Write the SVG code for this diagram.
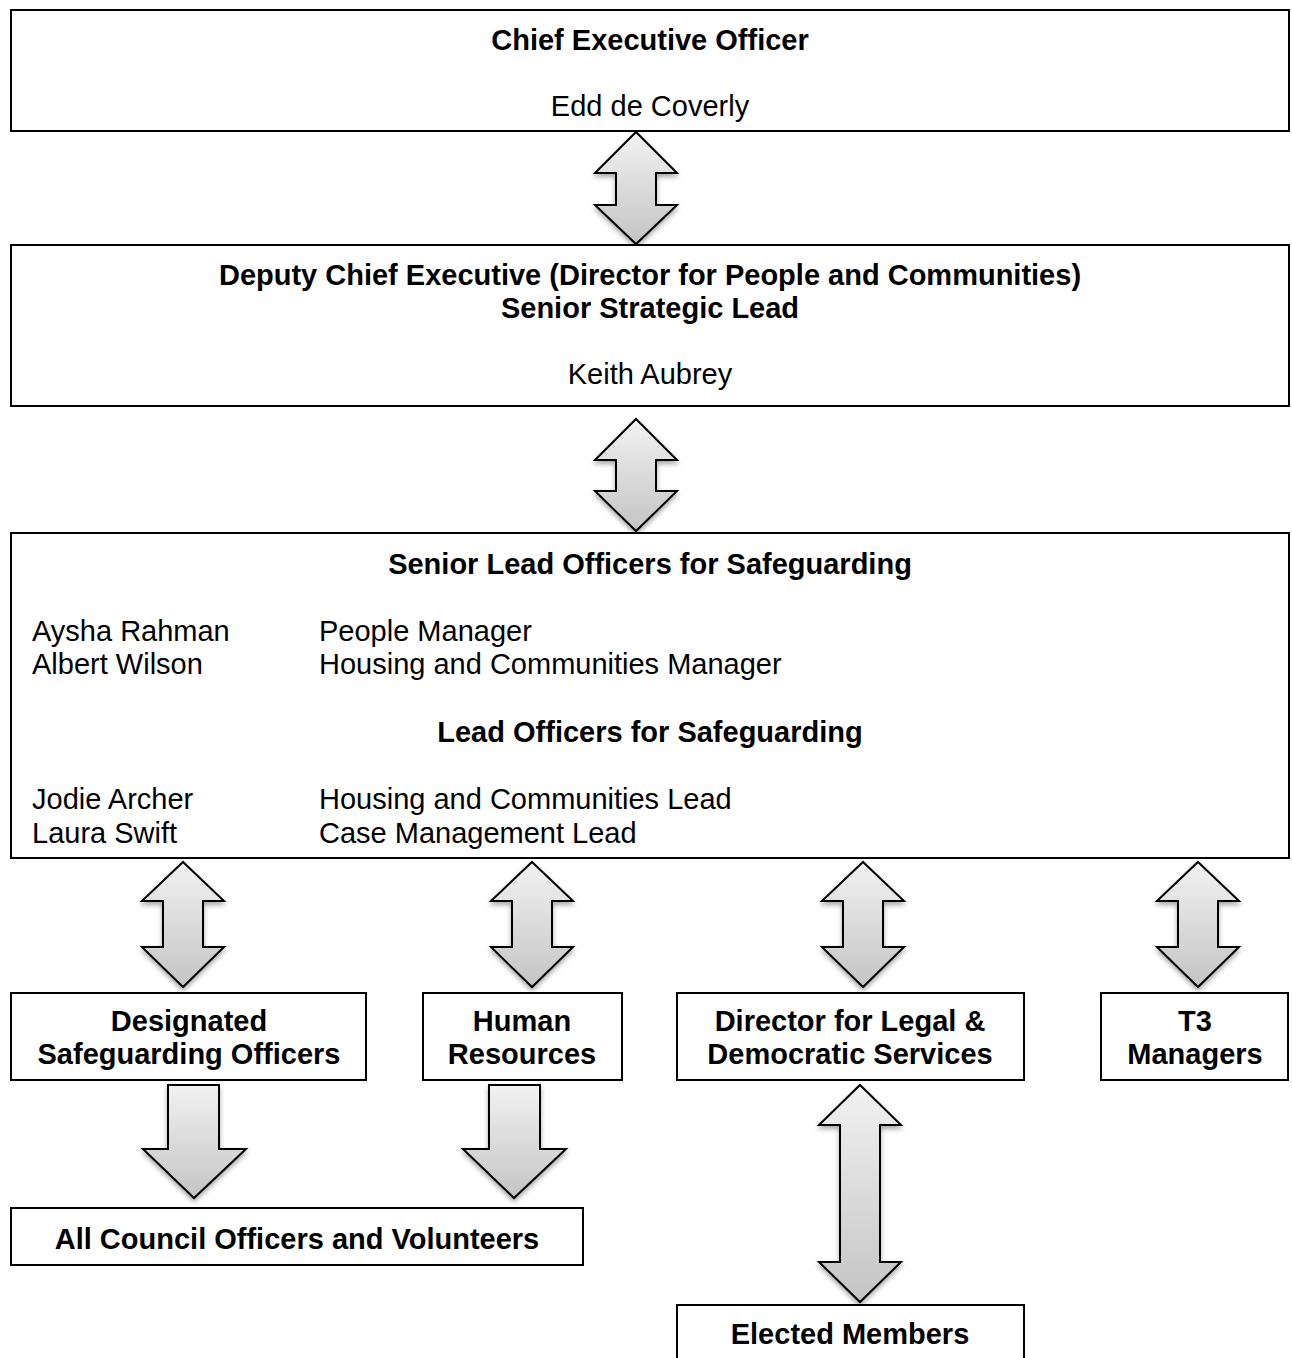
<svg xmlns="http://www.w3.org/2000/svg" width="1292" height="1358" viewBox="0 0 1292 1358">
<style>
.box{fill:#fff;stroke:#000;stroke-width:2}
.b{font-family:"Liberation Sans",Arial,sans-serif;font-size:29px;font-weight:bold;fill:#000;text-anchor:middle}
.n{font-family:"Liberation Sans",Arial,sans-serif;font-size:29px;fill:#000}
.c{text-anchor:middle}
.arr{fill:url(#g);stroke:#000;stroke-width:2;stroke-linejoin:miter;filter:url(#sh)}
</style>
<defs>
<linearGradient id="g" x1="0" y1="0" x2="0" y2="1">
<stop offset="0" stop-color="#f2f2f2"/>
<stop offset="1" stop-color="#c4c4c4"/>
</linearGradient>
<filter id="sh" x="-30%" y="-10%" width="160%" height="130%">
<feGaussianBlur in="SourceAlpha" stdDeviation="2.5"/>
<feOffset dx="0" dy="3" result="o"/>
<feComponentTransfer><feFuncA type="linear" slope="0.35"/></feComponentTransfer>
<feMerge><feMergeNode/><feMergeNode in="SourceGraphic"/></feMerge>
</filter>
</defs>
<g id="connectors">
<path class="arr" d="M636,132 L677,173 L656,173 L656,205 L677,205 L636,244 L595,205 L616,205 L616,173 L595,173 Z"/>
<path class="arr" d="M636,419 L677,460 L656,460 L656,491 L677,491 L636,531 L595,491 L616,491 L616,460 L595,460 Z"/>
<path class="arr" d="M183,862 L224,901 L203,901 L203,947 L224,947 L183,987 L142,947 L163,947 L163,901 L142,901 Z"/>
<path class="arr" d="M532,862 L573,901 L552,901 L552,947 L573,947 L532,987 L491,947 L512,947 L512,901 L491,901 Z"/>
<path class="arr" d="M863,862 L904,901 L883,901 L883,947 L904,947 L863,987 L822,947 L843,947 L843,901 L822,901 Z"/>
<path class="arr" d="M1198,862 L1239,901 L1218,901 L1218,947 L1239,947 L1198,987 L1157,947 L1178,947 L1178,901 L1157,901 Z"/>
<path class="arr" d="M168,1085 L219,1085 L219,1149 L246,1149 L194,1198 L143,1149 L168,1149 Z"/>
<path class="arr" d="M489,1085 L540,1085 L540,1149 L566,1149 L514,1198 L463,1149 L489,1149 Z"/>
<path class="arr" d="M860,1085 L901,1125 L880,1125 L880,1262 L901,1262 L860,1302 L819,1262 L840,1262 L840,1125 L819,1125 Z"/>
</g>
<g id="ceo">
<rect class="box" x="11" y="10" width="1278" height="121"/>
<text class="b" x="650" y="50">Chief Executive Officer</text>
<text class="n c" x="650" y="116">Edd de Coverly</text>
</g>
<g id="deputy">
<rect class="box" x="11" y="245" width="1278" height="161"/>
<text class="b" x="650" y="285">Deputy Chief Executive (Director for People and Communities)</text>
<text class="b" x="650" y="318">Senior Strategic Lead</text>
<text class="n c" x="650" y="384">Keith Aubrey</text>
</g>
<g id="leads">
<rect class="box" x="11" y="533" width="1278" height="325"/>
<text class="b" x="650" y="574">Senior Lead Officers for Safeguarding</text>
<text class="n" x="32" y="641">Aysha Rahman</text>
<text class="n" x="319" y="641">People Manager</text>
<text class="n" x="32" y="674">Albert Wilson</text>
<text class="n" x="319" y="674">Housing and Communities Manager</text>
<text class="b" x="650" y="742">Lead Officers for Safeguarding</text>
<text class="n" x="32" y="809">Jodie Archer</text>
<text class="n" x="319" y="809">Housing and Communities Lead</text>
<text class="n" x="32" y="843">Laura Swift</text>
<text class="n" x="319" y="843">Case Management Lead</text>
</g>
<g id="dso">
<rect class="box" x="11" y="993" width="355" height="87"/>
<text class="b" x="189" y="1031">Designated</text>
<text class="b" x="189" y="1064">Safeguarding Officers</text>
</g>
<g id="hr">
<rect class="box" x="423" y="993" width="199" height="87"/>
<text class="b" x="522" y="1031">Human</text>
<text class="b" x="522" y="1064">Resources</text>
</g>
<g id="legal">
<rect class="box" x="677" y="993" width="347" height="87"/>
<text class="b" x="850" y="1031">Director for Legal &amp;</text>
<text class="b" x="850" y="1064">Democratic Services</text>
</g>
<g id="t3">
<rect class="box" x="1101" y="993" width="187" height="87"/>
<text class="b" x="1195" y="1031">T3</text>
<text class="b" x="1195" y="1064">Managers</text>
</g>
<g id="all">
<rect class="box" x="11" y="1208" width="572" height="57"/>
<text class="b" x="297" y="1249">All Council Officers and Volunteers</text>
</g>
<g id="elected">
<rect class="box" x="677" y="1305" width="347" height="70"/>
<text class="b" x="850" y="1344">Elected Members</text>
</g>
</svg>
